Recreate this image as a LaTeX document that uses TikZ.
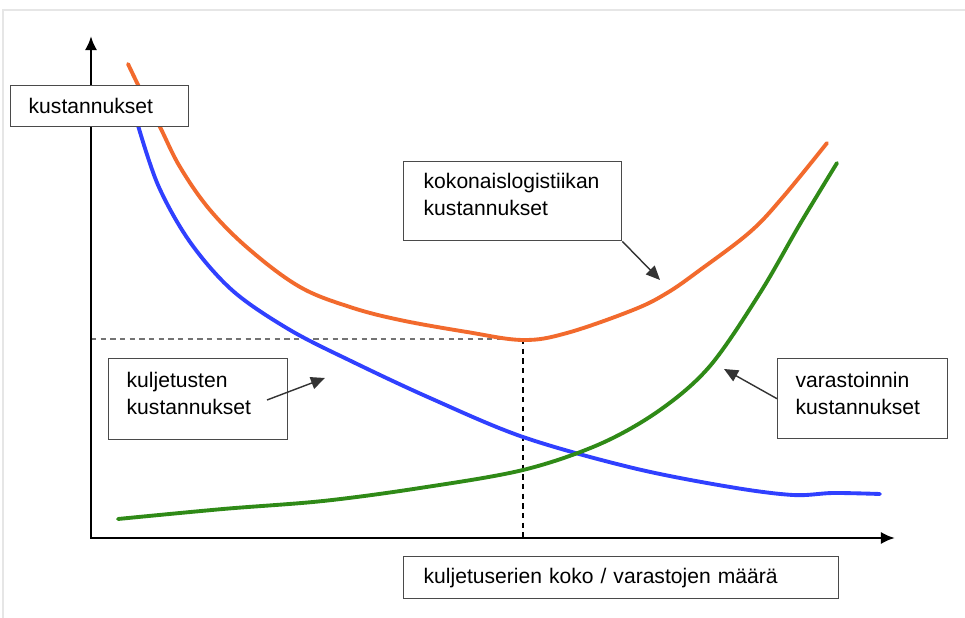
\documentclass[tikz,border=0pt]{standalone}
\usepackage{fontspec}
\setmainfont{Liberation Sans}
\usepackage{xcolor}
\usepackage{tikz}
\usetikzlibrary{
    arrows.meta,
    positioning,
    calc
}
\definecolor{totalcolor}{HTML}{F26A2D}
\definecolor{transportcolor}{HTML}{3040FF}
\definecolor{storagecolor}{HTML}{2F8A17}
\definecolor{boxborder}{HTML}{4A4A4A}
\definecolor{framegray}{HTML}{E6E6E6}
\tikzset{
    label box/.style={
        rectangle, draw=boxborder, fill=white,
        line width=0.8pt, anchor=north west,
        align=left, inner ysep=0pt,
        font=\fontsize{12}{15}\selectfont
    },
    note arrow/.style={
        -{Triangle[length=8pt,width=7pt]}, line width=0.8pt, draw=black!80
    },
    axis line/.style={
        {Latex[length=8pt,width=7pt]}-{Latex[length=8pt,width=7pt]}, line width=1.6pt
    },
    guide line/.style={
        dash pattern=on 3pt off 2.5pt, line width=0.6pt, draw=#1
    },
    guide line/.default={black},
    cost curve/.style={
        line width=2.2pt, draw=#1, line cap=round
    },
}

\begin{document}
\begin{tikzpicture}[x=0.02cm, y=-0.02cm]
    \useasboundingbox[fill=white] (0,0) rectangle (965,618);
    \draw[framegray, line width=1.2pt] (3,618) -- (3,10) -- (965,10);

    \coordinate (origin) at (91,538);
    \coordinate (ytop) at (91,36);
    \coordinate (xend) at (895,538);
    \coordinate (optimum) at (523,339);

    % Guide lines to the optimum
    \draw[guide line=black!55] (origin |- optimum) -- (optimum);
    \draw[guide line] (optimum) -- (optimum |- origin);

    % Cost curves
    \draw[cost curve=totalcolor] plot[smooth, tension=0.6] coordinates {
        (128,64) (145,99) (160,127) (180,167) (210,210) (250,250) (300,287)
        (350,307) (400,320) (467,332) (523,340) (567,333) (633,310) (667,293)
        (700,270) (750,232) (783,197) (827,143)};
    \draw[cost curve=transportcolor] plot[smooth, tension=0.55] coordinates {
        (137,122) (158,185) (190,242) (233,291) (290,330) (353,362)
        (430,398) (523,437) (633,468) (730,487) (793,495) (833,493) (880,494)};
    \draw[cost curve=storagecolor] plot[smooth, tension=0.55] coordinates {
        (118,519) (223,509) (323,501) (420,488) (523,470) (600,444)
        (660,410) (710,366) (760,293) (800,224) (837,163)};

    \draw[axis line] (ytop) -- (origin) -- (xend);

    \node[label box, inner xsep=0.36cm, text width=2.84cm, text height=0.56cm, text depth=0.26cm]
        (ylab) at (10,85) {kustannukset};
    \node[label box, inner xsep=0.4cm, text width=3.56cm, text height=0.54cm, text depth=1.04cm]
        (total) at (403,161) {kokonaislogistiikan\\kustannukset};
    \node[label box, inner xsep=0.36cm, text width=2.86cm, text height=0.58cm, text depth=1.04cm]
        (transport) at (108,358) {kuljetusten\\kustannukset};
    \node[label box, inner xsep=0.36cm, text width=2.68cm, text height=0.58cm, text depth=1.02cm]
        (storage) at (777,358) {varastoinnin\\kustannukset};
    \node[label box, inner xsep=0.4cm, text width=7.9cm, text height=0.54cm, text depth=0.3cm]
        (xlab) at (403,556) {kuljetuserien koko / varastojen määrä};

    % Annotations
    \coordinate (total tip) at (660,280);
    \coordinate (transport tail) at (267,400);
    \coordinate (transport tip) at (325,378);
    \coordinate (storage tip) at (724,369);
    \draw[note arrow] (total.south east) -- (total tip);
    \draw[note arrow] (transport tail) -- (transport tip);
    \draw[note arrow] (storage.west) -- (storage tip);
\end{tikzpicture}
\end{document}
